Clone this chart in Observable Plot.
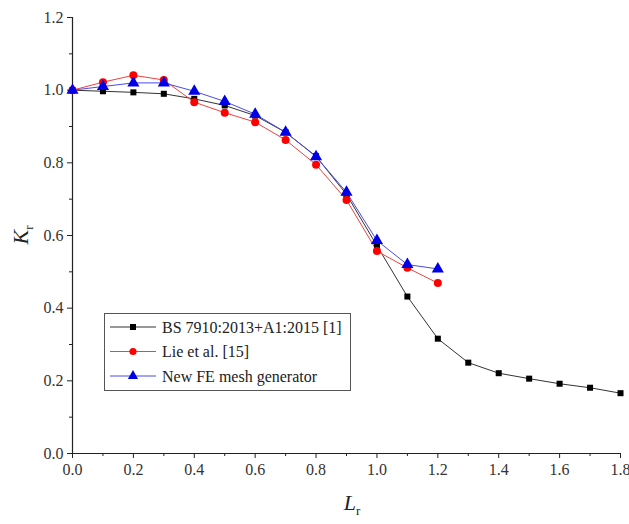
<!DOCTYPE html>
<html>
<head>
<meta charset="utf-8">
<script src="https://cdn.jsdelivr.net/npm/d3@7"></script>
<script src="https://cdn.jsdelivr.net/npm/@observablehq/plot@0.6"></script>
<style>
  html, body { margin: 0; padding: 0; background: #fff; }
  #chart svg { display: block; }
  #chart svg, #chart svg text { font-family: "Liberation Serif", "Times New Roman", serif !important; }
</style>
</head>
<body>
<div id="chart"></div>
<script>
const Lr = [0, 0.1, 0.2, 0.3, 0.4, 0.5, 0.6, 0.7, 0.8, 0.9, 1.0, 1.1, 1.2, 1.3, 1.4, 1.5, 1.6, 1.7, 1.8];
const bsValues = [1.0, 0.997, 0.994, 0.990, 0.976, 0.958, 0.930, 0.884, 0.818, 0.713, 0.572, 0.432, 0.316, 0.250, 0.221, 0.206, 0.192, 0.181, 0.166];
const lieLr = [0, 0.1, 0.2, 0.3, 0.4, 0.5, 0.6, 0.7, 0.8, 0.9, 1.0, 1.1, 1.2];
const lieValues = [1.0, 1.022, 1.041, 1.028, 0.967, 0.938, 0.912, 0.863, 0.795, 0.698, 0.557, 0.511, 0.469];
const feLr = [0, 0.1, 0.2, 0.3, 0.4, 0.5, 0.6, 0.7, 0.8, 0.9, 1.0, 1.1, 1.2];
const feValues = [1.0, 1.010, 1.020, 1.020, 0.997, 0.969, 0.934, 0.884, 0.817, 0.719, 0.586, 0.520, 0.508];
const seriesNames = ["BS 7910:2013+A1:2015 [1]", "Lie et al. [15]", "New FE mesh generator"];
const xMajor = [0, 0.2, 0.4, 0.6, 0.8, 1.0, 1.2, 1.4, 1.6, 1.8];
const xMinor = [0.1, 0.3, 0.5, 0.7, 0.9, 1.1, 1.3, 1.5, 1.7];
const yMajor = [0, 0.2, 0.4, 0.6, 0.8, 1.0, 1.2];
const yMinor = [0.1, 0.3, 0.5, 0.7, 0.9, 1.1];

const bs = Lr.map((x, i) => ({x, y: bsValues[i]}));
const lie = lieLr.map((x, i) => ({x, y: lieValues[i]}));
const fe = feLr.map((x, i) => ({x, y: feValues[i]}));

const font = "Liberation Serif, Times New Roman, serif";

const plot = Plot.plot({
  width: 629,
  height: 524,
  marginLeft: 72,
  marginRight: 9,
  marginTop: 17,
  marginBottom: 71,
  style: {fontFamily: font, fontSize: "16px", color: "#333", background: "#fff"},
  x: {domain: [0, 1.8]},
  y: {domain: [0, 1.2]},
  marks: [
    Plot.axisX({ticks: xMajor, tickSize: 5, tickPadding: 5, tickFormat: d3.format(".1f"), label: null, fontSize: 16, stroke: "#222", fill: "#333"}),
    Plot.axisX({ticks: xMinor, tickSize: 3, text: null, label: null, stroke: "#222"}),
    Plot.axisY({ticks: yMajor, tickSize: 5, tickPadding: 4, tickFormat: d3.format(".1f"), label: null, fontSize: 16, stroke: "#222", fill: "#333"}),
    Plot.axisY({ticks: yMinor, tickSize: 3, text: null, label: null, stroke: "#222"}),
    Plot.ruleX([0], {stroke: "#222", strokeWidth: 1.2}),
    Plot.ruleY([0], {stroke: "#222", strokeWidth: 1.2}),
    Plot.line(bs, {x: "x", y: "y", stroke: "#333", strokeWidth: 1}),
    Plot.line(lie, {x: "x", y: "y", stroke: "#f04040", strokeWidth: 1}),
    Plot.line(fe, {x: "x", y: "y", stroke: "#4a4ae8", strokeWidth: 1}),
    Plot.dot(bs, {x: "x", y: "y", symbol: "square", r: 3.4, fill: "#000", stroke: "none"}),
    Plot.dot(lie, {x: "x", y: "y", symbol: "circle", r: 4, fill: "#f00", stroke: "none"}),
    Plot.dot(fe, {x: "x", y: "y", symbol: "triangle", r: 4.5, fill: "#0000e6", stroke: "none"})
  ]
});

const svg = d3.select(plot);

// Axis titles
svg.append("text")
  .attr("transform", "translate(28,235) rotate(-90)")
  .attr("text-anchor", "middle")
  .attr("font-size", 22)
  .attr("fill", "#222")
  .call(t => {
    t.append("tspan").attr("font-style", "italic").text("K");
    t.append("tspan").attr("font-size", 13).attr("dy", 5).text("r");
  });

svg.append("text")
  .attr("x", 352)
  .attr("y", 510)
  .attr("text-anchor", "middle")
  .attr("font-size", 22)
  .attr("fill", "#222")
  .call(t => {
    t.append("tspan").attr("font-style", "italic").text("L");
    t.append("tspan").attr("font-size", 13).attr("dy", 5).text("r");
  });

// Legend
const lg = svg.append("g").attr("text-anchor", "start");
lg.append("rect")
  .attr("x", 104.5).attr("y", 313.5).attr("width", 246).attr("height", 77)
  .attr("fill", "#fff").attr("stroke", "#555").attr("stroke-width", 1);
const legendItems = [
  {name: seriesNames[0], line: "#333", fill: "#000", sym: d3.symbolSquare, size: 36},
  {name: seriesNames[1], line: "#f04040", fill: "#f00", sym: d3.symbolCircle, size: 40},
  {name: seriesNames[2], line: "#4a4ae8", fill: "#0000e6", sym: d3.symbolTriangle, size: 45}
];
legendItems.forEach((it, i) => {
  const cy = 327 + i * 24.5;
  lg.append("line").attr("x1", 110).attr("x2", 156).attr("y1", cy).attr("y2", cy)
    .attr("stroke", it.line).attr("stroke-width", 1);
  lg.append("path").attr("d", d3.symbol(it.sym, it.size)())
    .attr("transform", `translate(133,${cy})`).attr("fill", it.fill);
  lg.append("text").attr("x", 162).attr("y", cy).attr("dy", "0.35em")
    .attr("text-anchor", "start")
    .attr("font-size", 16).attr("fill", "#222").text(it.name);
});

document.getElementById("chart").appendChild(plot);
</script>
</body>
</html>
